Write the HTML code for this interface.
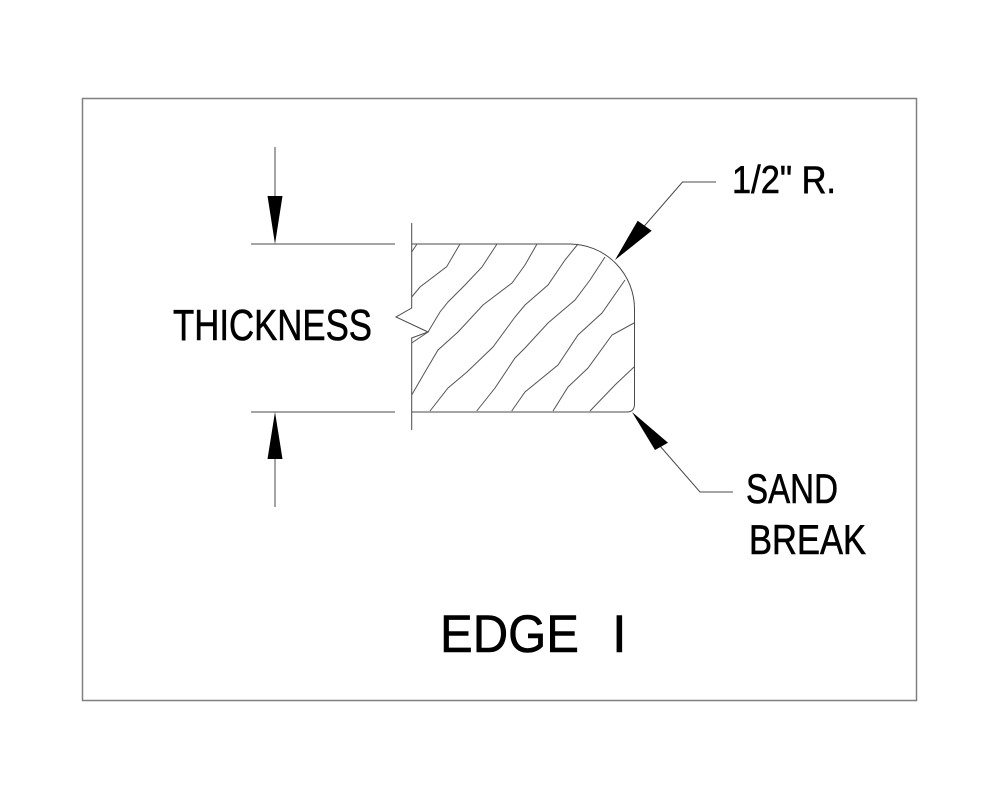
<!DOCTYPE html>
<html>
<head>
<meta charset="utf-8">
<style>
html,body{margin:0;padding:0;background:#fff;}
svg{display:block;}
text{font-family:"Liberation Sans",Arial,sans-serif;fill:#000;stroke:#000;stroke-width:0.6;}
</style>
</head>
<body>
<svg width="1000" height="800" viewBox="0 0 1000 800" xmlns="http://www.w3.org/2000/svg">
<rect x="0" y="0" width="1000" height="800" fill="#fff" stroke="none"/>
<!-- border -->
<rect x="82.5" y="98.5" width="834" height="602" fill="none" stroke="#808080" stroke-width="1.5"/>

<g fill="none" stroke="#4a4a4a" stroke-width="1">
  <!-- profile outline -->
  <path d="M411.7,412 L627,412 Q634.5,412 634.5,404 L634.5,309 A65,65 0 0 0 570,244 L411.7,244"/>
  <!-- break line -->
  <polyline points="411.7,223 411.7,308 396,317 428,332 411.7,338 411.7,430"/>
  <!-- extension lines -->
  <line x1="251" y1="244" x2="395" y2="244"/>
  <line x1="251" y1="412" x2="395" y2="412"/>
  <!-- dimension lines -->
  <line x1="275" y1="147" x2="275" y2="200"/>
  <line x1="275" y1="455" x2="275" y2="507"/>
  <!-- leaders -->
  <polyline points="716,182 682.5,182 640,231"/>
  <polyline points="660,446 700,492 733,492"/>
</g>

<!-- hatch -->
<g fill="none" stroke="#555" stroke-width="1">
  <polyline points="411.7,252 417,244"/>
  <polyline points="411.7,297 420,287 446.7,266.7 460,244"/>
  <polyline points="411.7,343 428,332 440,312 448,302 465,285 482,267 497,244"/>
  <polyline points="411.7,395 425,372 438,350 458,332 483,305 512,283 525,265 537,244"/>
  <polyline points="430,411 448,388 467,372 493,347 515,317 525,305 548,285 565,260 578,244"/>
  <polyline points="476.7,411 495,388 515,358 525,348 548,323 575,300 590,280 605,257"/>
  <polyline points="511.7,411 525,392 558,365 578,335 602,313 625,280"/>
  <polyline points="553,411 568,387 588,368 612,335 634,323"/>
  <polyline points="590,411 615,385 634,367"/>
</g>

<!-- arrowheads -->
<g fill="#000" stroke="none">
  <polygon points="275,244 267.5,196 282.5,196"/>
  <polygon points="275,412 267.5,459 282.5,459"/>
  <polygon points="615,260 637.7,220.7 651.7,230.7"/>
  <polygon points="632,412 655,450 668,442.7"/>
</g>

<!-- labels -->
<text x="173" y="340" font-size="44" textLength="199" lengthAdjust="spacingAndGlyphs">THICKNESS</text>
<text x="732" y="193" font-size="39" textLength="104" lengthAdjust="spacingAndGlyphs">1/2" R.</text>
<text x="746" y="503" font-size="42" textLength="92" lengthAdjust="spacingAndGlyphs">SAND</text>
<text x="749" y="554" font-size="42" textLength="117" lengthAdjust="spacingAndGlyphs">BREAK</text>
<text x="440" y="652" font-size="53" textLength="139" lengthAdjust="spacingAndGlyphs">EDGE</text>
<text x="612" y="652" font-size="53">I</text>
</svg>
</body>
</html>
